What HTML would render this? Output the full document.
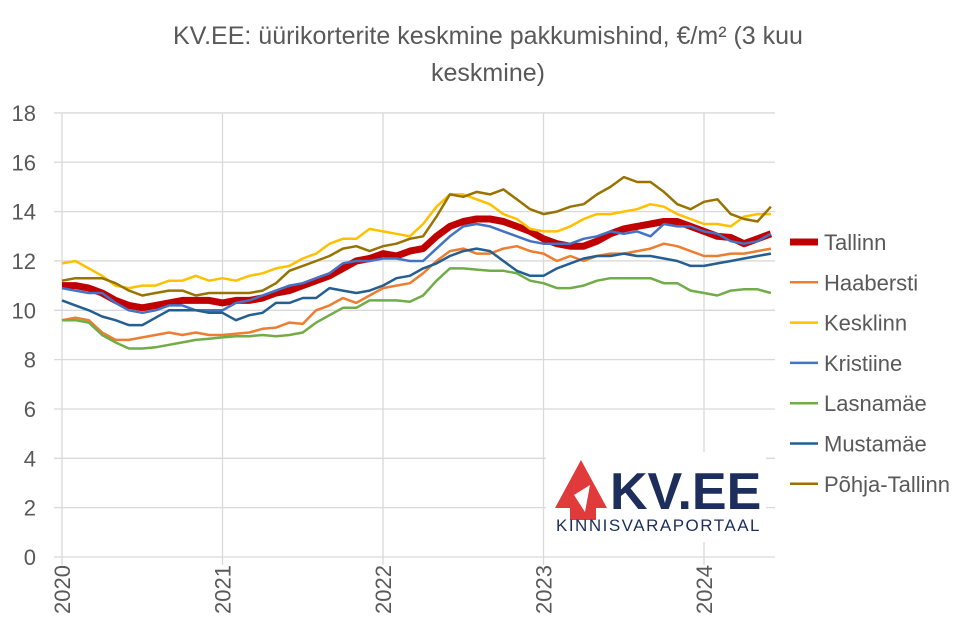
<!DOCTYPE html>
<html><head><meta charset="utf-8"><style>
body{margin:0;background:#fff;font-family:"Liberation Sans",sans-serif;}
#wrap{position:relative;width:976px;height:637px;overflow:hidden;}
</style></head><body>
<div id="wrap">
<svg id="chart" width="976" height="637" xmlns="http://www.w3.org/2000/svg"></svg>
</div>
<script>
const years=["2020","2021","2022","2023","2024"];
const yTicks=[0,2,4,6,8,10,12,14,16,18];
const seriesNames=["Tallinn","Haabersti","Kesklinn","Kristiine","Lasnamäe","Mustamäe","Põhja-Tallinn"];
const tallinn=[11.0,11.0,10.9,10.7,10.4,10.2,10.1,10.2,10.3,10.4,10.4,10.4,10.3,10.4,10.4,10.5,10.7,10.8,11.0,11.2,11.4,11.7,12.0,12.1,12.3,12.2,12.4,12.5,13.0,13.4,13.6,13.7,13.7,13.6,13.4,13.2,12.9,12.7,12.6,12.6,12.8,13.1,13.3,13.4,13.5,13.6,13.6,13.4,13.2,13.0,12.95,12.7,12.9,13.1];
const haabersti=[9.6,9.7,9.6,9.1,8.8,8.8,8.9,9.0,9.1,9.0,9.1,9.0,9.0,9.05,9.1,9.25,9.3,9.5,9.45,10.0,10.2,10.5,10.3,10.6,10.9,11.0,11.1,11.5,12.0,12.4,12.5,12.3,12.3,12.5,12.6,12.4,12.3,12.0,12.2,12.0,12.2,12.3,12.3,12.4,12.5,12.7,12.6,12.4,12.2,12.2,12.3,12.3,12.4,12.5];
const kesklinn=[11.9,12.0,11.7,11.4,11.0,10.9,11.0,11.0,11.2,11.2,11.4,11.2,11.3,11.2,11.4,11.5,11.7,11.8,12.1,12.3,12.7,12.9,12.9,13.3,13.2,13.1,13.0,13.5,14.2,14.7,14.7,14.5,14.3,13.9,13.7,13.3,13.2,13.2,13.4,13.7,13.9,13.9,14.0,14.1,14.3,14.2,13.9,13.7,13.5,13.5,13.4,13.8,13.9,13.9];
const kristiine=[10.9,10.8,10.7,10.7,10.3,10.0,9.9,10.0,10.2,10.2,10.0,10.0,10.0,10.3,10.4,10.6,10.8,11.0,11.1,11.3,11.5,11.9,12.0,12.0,12.1,12.1,12.0,12.0,12.5,13.0,13.4,13.5,13.4,13.2,13.0,12.8,12.7,12.7,12.7,12.9,13.0,13.2,13.1,13.2,13.0,13.5,13.4,13.4,13.2,13.1,12.8,12.7,12.8,13.1];
const lasnamae=[9.6,9.6,9.5,9.0,8.7,8.45,8.45,8.5,8.6,8.7,8.8,8.85,8.9,8.95,8.95,9.0,8.95,9.0,9.1,9.5,9.8,10.1,10.1,10.4,10.4,10.4,10.35,10.6,11.2,11.7,11.7,11.65,11.6,11.6,11.5,11.2,11.1,10.9,10.9,11.0,11.2,11.3,11.3,11.3,11.3,11.1,11.1,10.8,10.7,10.6,10.8,10.85,10.85,10.7];
const mustamae=[10.4,10.2,10.0,9.75,9.6,9.4,9.4,9.7,10.0,10.0,10.0,9.9,9.9,9.6,9.8,9.9,10.3,10.3,10.5,10.5,10.9,10.8,10.7,10.8,11.0,11.3,11.4,11.7,11.9,12.2,12.4,12.5,12.4,12.0,11.6,11.4,11.4,11.7,11.9,12.1,12.2,12.2,12.3,12.2,12.2,12.1,12.0,11.8,11.8,11.9,12.0,12.1,12.2,12.3];
const pohja=[11.2,11.3,11.3,11.3,11.1,10.8,10.6,10.7,10.8,10.8,10.6,10.7,10.7,10.7,10.7,10.8,11.1,11.6,11.8,12.0,12.2,12.5,12.6,12.4,12.6,12.7,12.9,13.0,13.8,14.7,14.6,14.8,14.7,14.9,14.5,14.1,13.9,14.0,14.2,14.3,14.7,15.0,15.4,15.2,15.2,14.8,14.3,14.1,14.4,14.5,13.9,13.7,13.6,14.2];
const colors=["#c00000","#ed7d31","#ffc000","#4472c4","#70ad47","#255e91","#997300"];
const widths=[7,2.5,2.5,2.5,2.5,2.5,2.5];
const seriesData=[tallinn,haabersti,kesklinn,kristiine,lasnamae,mustamae,pohja];

const NS="http://www.w3.org/2000/svg";
const svg=document.getElementById('chart');
const x0=62,pxYear=160.5,yBase=557,pxUnit=24.67;
const xs=i=>x0+i*pxYear/12;
const ys=v=>yBase-v*pxUnit;
function mk(tag,attrs){const e=document.createElementNS(NS,tag);for(const k in attrs)e.setAttribute(k,attrs[k]);svg.appendChild(e);return e;}

const t1=mk('text',{x:488,y:44,'text-anchor':'middle','font-size':25,fill:'#595959'});t1.textContent="KV.EE: üürikorterite keskmine pakkumishind, €/m² (3 kuu";


const t2=mk('text',{x:488,y:81,'text-anchor':'middle','font-size':25,fill:'#595959'});t2.textContent="keskmine)";



yTicks.forEach(v=>{
 const g=mk('line',{x1:x0-8,x2:775,y1:ys(v),y2:ys(v),stroke:'#d9d9d9','stroke-width':1.3});
 
 
 const t=mk('text',{x:36,y:ys(v)+8,'text-anchor':'end','font-size':22,fill:'#595959'});t.textContent=v;
 
 
});
years.forEach((yr,i)=>{
 const x=xs(i*12);
 const g=mk('line',{x1:x,x2:x,y1:ys(18),y2:yBase+8,stroke:'#d9d9d9','stroke-width':1.3});
 
 
 const t=mk('text',{x:x+8,y:565,'text-anchor':'end','font-size':22,fill:'#595959',transform:`rotate(-90 ${x+8} 565)`});t.textContent=yr;
 
 
});
seriesData.forEach((arr,si)=>{
 const d=arr.map((v,i)=>(i?'L':'M')+xs(i).toFixed(1)+' '+ys(v).toFixed(1)).join(' ');
 const p=mk('path',{d:d,fill:'none',stroke:colors[si],'stroke-width':widths[si],'stroke-linejoin':'round'});
 
 
});
seriesNames.forEach((n,i)=>{
 const y=242+i*40.3;
 const l=mk('line',{x1:790,x2:818,y1:y,y2:y,stroke:colors[i],'stroke-width':widths[i]});
 
 
 const t=mk('text',{x:824,y:y+8,'font-size':22,fill:'#595959'});t.textContent=n;
 
 
});
const lg=mk('rect',{x:546,y:452,width:220,height:90,fill:'#fff'});


const house=mk('path',{d:'M555 508 L581 460 L607 508 L596 508 L596 520 L570 520 L570 508 Z',fill:'#e03a3a'});


const arrow=mk('path',{d:'M574 495 L590 485 L585 512 Z',fill:'#fff'});


const lt=mk('text',{x:610,y:509,'font-size':52,'font-weight':'bold',fill:'#1e2e5c'});lt.textContent="KV.EE";


const ls=mk('text',{x:556,y:531,'font-size':17,fill:'#1e2e5c','letter-spacing':'1.5'});ls.textContent="KINNISVARAPORTAAL";


</script>
</body></html>
